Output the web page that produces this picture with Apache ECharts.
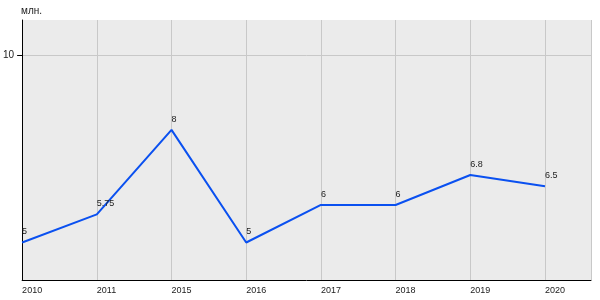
<!DOCTYPE html>
<html><head><meta charset="utf-8">
<script src="https://cdn.jsdelivr.net/npm/echarts@6/dist/echarts.min.js"></script>
<style>html,body{margin:0;padding:0;background:#fff}#c{width:600px;height:300px}</style>
</head><body><div id="c"></div>
<script>
var categories = ['2010','2011','2015','2016','2017','2018','2019','2020'];
var values = [5, 5.75, 8, 5, 6, 6, 6.8, 6.5];
var yTicks = [10];
var unitLabel = 'млн.';

var data = values.map(function(v,i){return [i, v];});
var chart = echarts.init(document.getElementById('c'), null, {renderer:'canvas'});
chart.setOption({
  animation:false,
  textStyle:{fontFamily:'Liberation Sans, Arial, sans-serif'},
  grid:{left:22,right:9,top:20,bottom:20,show:true,backgroundColor:'#ebebeb',borderWidth:0},
  graphic:[{type:'text',left:21,top:6,style:{text:unitLabel,fontSize:10,fill:'#222',fontFamily:'Liberation Sans, Arial, sans-serif'}}],
  xAxis:{type:'value',min:0,max:7.616,interval:1,
    axisLine:{show:true,lineStyle:{color:'#000',width:1}},
    axisTick:{show:false},
    splitLine:{show:true,lineStyle:{color:'#c8c8c8',width:1}},
    axisLabel:{show:true,align:'left',margin:6,fontSize:9,color:'#222',
      showMaxLabel:false,
      formatter:function(v){var i=Math.round(v);return (Math.abs(v-i)<1e-6&&categories[i])?categories[i]:'';}}
  },
  yAxis:{type:'value',min:4,max:10.93,
    axisLine:{show:true,lineStyle:{color:'#000',width:1}},
    axisTick:{show:true,length:5,customValues:yTicks,lineStyle:{color:'#000'}},
    axisLabel:{show:true,customValues:yTicks,fontSize:10,color:'#222',margin:8},
    splitLine:{show:true,lineStyle:{color:'#c8c8c8',width:1}}
  },
  series:[{type:'line',data:data,symbol:'circle',symbolSize:2,showSymbol:true,
    itemStyle:{color:'rgba(0,0,0,0)',borderWidth:0},
    lineStyle:{color:'#0a50f0',width:2},
    label:{show:true,position:'top',distance:5,offset:[0,0],fontSize:9,color:'#222',
      formatter:function(p){return String(p.value[1]);},
      rich:{}}
  }]
});
// shift labels to be left-aligned at point
chart.setOption({series:[{label:{align:'left'}}]});
</script></body></html>
